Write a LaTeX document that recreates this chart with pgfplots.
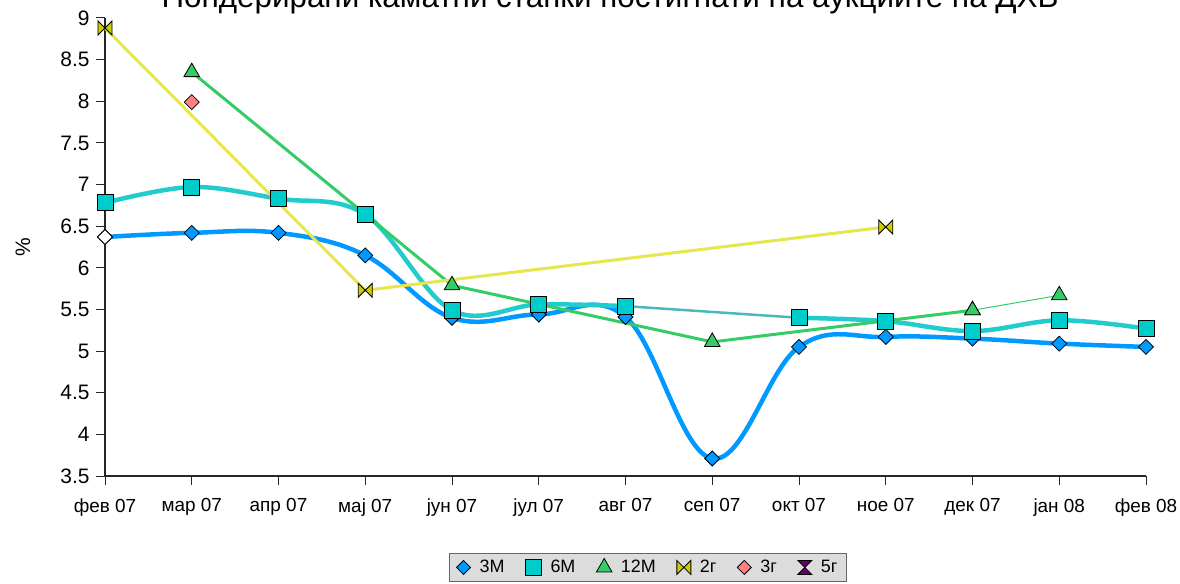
\documentclass[border=0pt]{standalone}
\usepackage{pgfplots}
\pgfplotsset{compat=1.18}
\usepackage{fontspec}
\setmainfont{Liberation Sans}
\definecolor{c3m}{HTML}{0099FF}
\definecolor{c6m}{HTML}{00CCCC}
\definecolor{c6ml}{HTML}{22CCCC}
\definecolor{c6mc}{HTML}{4DB8B8}
\definecolor{c12m}{HTML}{33CC66}
\definecolor{c2g}{HTML}{CCCC00}
\definecolor{c2gl}{HTML}{E6E64D}
\definecolor{c3g}{HTML}{FF8080}
\definecolor{c5g}{HTML}{660066}
\definecolor{legfill}{HTML}{DCDCDC}
\pgfdeclareplotmark{sqdiamond}{%
  \pgfpathmoveto{\pgfqpoint{0pt}{\pgfplotmarksize}}%
  \pgfpathlineto{\pgfqpoint{\pgfplotmarksize}{0pt}}%
  \pgfpathlineto{\pgfqpoint{0pt}{-\pgfplotmarksize}}%
  \pgfpathlineto{\pgfqpoint{-\pgfplotmarksize}{0pt}}%
  \pgfpathclose
  \pgfusepathqfillstroke}
\pgfdeclareplotmark{bowtie}{%
  \pgfpathmoveto{\pgfqpoint{-\pgfplotmarksize}{\pgfplotmarksize}}%
  \pgfpathlineto{\pgfqpoint{\pgfplotmarksize}{-\pgfplotmarksize}}%
  \pgfpathlineto{\pgfqpoint{\pgfplotmarksize}{\pgfplotmarksize}}%
  \pgfpathlineto{\pgfqpoint{-\pgfplotmarksize}{-\pgfplotmarksize}}%
  \pgfpathclose
  \pgfusepathqfillstroke}
\pgfdeclareplotmark{hourglass}{%
  \pgfpathmoveto{\pgfqpoint{-\pgfplotmarksize}{\pgfplotmarksize}}%
  \pgfpathlineto{\pgfqpoint{\pgfplotmarksize}{\pgfplotmarksize}}%
  \pgfpathlineto{\pgfqpoint{-\pgfplotmarksize}{-\pgfplotmarksize}}%
  \pgfpathlineto{\pgfqpoint{\pgfplotmarksize}{-\pgfplotmarksize}}%
  \pgfpathclose
  \pgfusepathqfillstroke}
\begin{document}
\begin{tikzpicture}
\useasboundingbox (0bp,0bp) rectangle (1180bp,584bp);
\node[anchor=base, font=\fontsize{31.5}{36}\selectfont] at (610bp,576bp) {Пондерирани каматни стапки постигнати на аукциите на ДХВ};
\begin{axis}[
  at={(105bp,108bp)}, anchor=south west,
  width=1041bp, height=458bp, scale only axis,
  xmin=0, xmax=12, ymin=3.5, ymax=9,
  xtick={0,...,12},
  xticklabels={фев 07,мар 07,апр 07,мај 07,јун 07,јул 07,авг 07,сеп 07,окт 07,ное 07,дек 07,јан 08,фев 08},
  ytick={3.5,4,...,9},
  axis lines=left,
  axis line style={-, black!85, line width=1.3bp},
  tick align=outside,
  major tick length=9bp,
  tick style={black!85, line width=1bp},
  /pgf/number format/assume math mode=true,
  yticklabel style={font=\fontsize{21}{24}\selectfont, xshift=-3bp},
  xticklabel style={font=\fontsize{19}{22}\selectfont, yshift=-10bp},
  ylabel={\%},
  ylabel style={at={(axis description cs:-0.0788,0.5)}, anchor=center, font=\fontsize{21}{24}\selectfont},
  clip=false,
  legend columns=6,
  legend style={at={(axis description cs:0.5216,-0.168)}, anchor=north,
    draw=black!60, fill=legfill, line width=1bp,
    font=\fontsize{18}{21}\selectfont,
    /tikz/every odd column/.append style={column sep=7bp},
    /tikz/every even column/.append style={column sep=19bp},
    inner xsep=7bp, inner ysep=5bp},
  legend cell align=left,
]
% legend images
\addlegendimage{only marks, mark=sqdiamond, mark size=7bp, mark options={fill=c3m, draw=black, line width=0.8bp}}
\addlegendentry{3M}
\addlegendimage{only marks, mark=square*, mark size=8bp, mark options={fill=c6m, draw=black, line width=0.8bp}}
\addlegendentry{6M}
\addlegendimage{only marks, mark=triangle*, mark size=9bp, mark options={fill=c12m, draw=black, line width=0.8bp}}
\addlegendentry{12M}
\addlegendimage{only marks, mark=bowtie, mark size=7bp, mark options={fill=c2g, draw=black, line width=0.8bp}}
\addlegendentry{2г}
\addlegendimage{only marks, mark=sqdiamond, mark size=7bp, mark options={fill=c3g, draw=black, line width=0.8bp}}
\addlegendentry{3г}
\addlegendimage{only marks, mark=hourglass, mark size=7bp, mark options={fill=c5g, draw=black, line width=0.8bp}}
\addlegendentry{5г}
% 3M
\addplot[forget plot, c3m, line width=4.5bp, smooth, tension=0.65,
  mark=sqdiamond, mark size=7.5bp, mark options={fill=c3m, draw=black, line width=0.8bp}]
  coordinates {(0,6.37) (1,6.42) (2,6.42) (3,6.15) (4,5.40) (5,5.44) (6,5.41) (7,3.71) (8,5.05) (9,5.17) (10,5.15) (11,5.09) (12,5.05)};
\addplot[forget plot, only marks, mark=sqdiamond, mark size=7.5bp, mark options={fill=white, draw=black, line width=0.8bp}]
  coordinates {(0,6.37)};
% 6M
\addplot[forget plot, c6ml, line width=4.5bp, smooth, tension=0.6,
  mark=square*, mark size=8bp, mark options={fill=c6m, draw=black, line width=0.8bp}]
  coordinates {(0,6.78) (1,6.97) (2,6.83) (3,6.64) (4,5.49) (5,5.56) (6,5.54)};
\addplot[forget plot, c6mc, line width=2.5bp]
  coordinates {(6,5.54) (8,5.40)};
\addplot[forget plot, c6ml, line width=4.5bp, smooth, tension=0.6,
  mark=square*, mark size=8bp, mark options={fill=c6m, draw=black, line width=0.8bp}]
  coordinates {(8,5.40) (9,5.36) (10,5.24) (11,5.37) (12,5.27)};
\addplot[forget plot, only marks, mark=square*, mark size=8bp, mark options={fill=c6m, draw=black, line width=0.8bp}]
  coordinates {(6,5.54)};
% 12M
\addplot[forget plot, c12m, line width=1bp,
  mark=triangle*, mark size=9bp, mark options={fill=c12m, draw=black, line width=0.8bp}]
  coordinates {(10,5.49) (11,5.67)};
\addplot[forget plot, c12m, line width=3bp,
  mark=triangle*, mark size=9bp, mark options={fill=c12m, draw=black, line width=0.8bp}]
  coordinates {(1,8.35) (4,5.79) (7,5.11) (10,5.49)};
% 2g
\addplot[forget plot, c2gl, line width=3bp,
  mark=bowtie, mark size=7bp, mark options={fill=c2g, draw=black, line width=0.8bp}]
  coordinates {(0,8.88) (3,5.73) (9,6.49)};
% 3g
\addplot[forget plot, only marks, mark=sqdiamond, mark size=7.5bp, mark options={fill=c3g, draw=black, line width=0.8bp}]
  coordinates {(1,7.99)};
\end{axis}
\end{tikzpicture}
\end{document}
